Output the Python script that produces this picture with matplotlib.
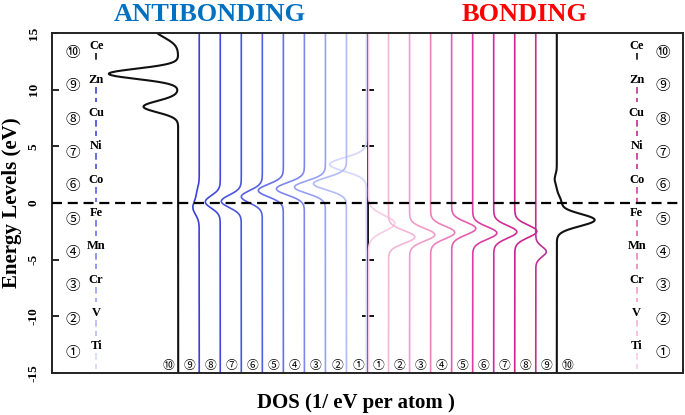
import numpy as np
import matplotlib
matplotlib.use('Agg')
import matplotlib.pyplot as plt

# 元素 ①..⑩
elements = ['Ti', 'V', 'Cr', 'Mn', 'Fe', 'Co', 'Ni', 'Cu', 'Zn', 'Ce']
circled = ['①', '②', '③', '④', '⑤', '⑥', '⑦', '⑧', '⑨', '⑩']

# 反键 DOS 峰: (能量 eV, 强度, 宽度)
antibonding_peaks = [
    [(3.4, 1.75, 0.6)],                                        # Ti
    [(1.7, 1.57, 0.55)],                                       # V
    [(1.4, 1.47, 0.55)],                                       # Cr
    [(1.25, 1.33, 0.55)],                                      # Mn
    [(1.1, 1.19, 0.55)],                                       # Fe
    [(0.55, 1.0, 0.55)],                                       # Co
    [(0.15, 0.95, 0.55)],                                      # Ni
    [(0.1, 0.71, 0.55)],                                       # Cu
    [(-0.4, 0.3, 0.6), (0.9, 0.1, 0.5)],                       # Zn
    [(8.5, 1.65, 0.5), (11.4, 3.3, 0.45), (15.3, 1.1, 0.7)],   # Ce
]

# 成键 DOS 峰
bonding_peaks = [
    [(-1.8, 1.25, 0.7)],                                       # Ti
    [(-3.0, 1.25, 0.55)],                                      # V
    [(-2.8, 1.2, 0.55)],                                       # Cr
    [(-2.6, 1.15, 0.55)],                                      # Mn
    [(-2.25, 1.15, 0.55)],                                     # Fe
    [(-2.65, 1.15, 0.55)],                                     # Co
    [(-2.55, 1.1, 0.55)],                                      # Ni
    [(-2.5, 1.05, 0.55)],                                      # Cu
    [(-4.3, 0.5, 0.45)],                                       # Zn
    [(-1.5, 1.8, 0.55), (0.1, 0.2, 0.5), (2.1, -0.1, 0.4)],    # Ce
]

y_ticks = [-15, -10, -5, 0, 5, 10, 15]

blues = ['#d3d7fb', '#b3baf6', '#98a1f1', '#7e88ec', '#6671e8',
         '#5560e3', '#4a55df', '#4049db', '#3a42d6', '#111111']
pinks = ['#f7cde3', '#f4b6d7', '#f09dcb', '#ea82bd', '#e25fae',
         '#da3ea2', '#d22c97', '#c9258d', '#bb3392', '#111111']

SERIF = 'Liberation Serif'
CIRC = ['Noto Sans CJK JP', 'DejaVu Sans']


def dos(E, peaks):
    d = np.zeros_like(E)
    for c, a, w in peaks:
        d += a * np.exp(-(E - c) ** 2 / (2 * w ** 2))
    return d


fig = plt.figure(figsize=(6.85, 4.15), dpi=100)
ax = fig.add_axes([52 / 685, 1 - 373 / 415, 631 / 685, 340 / 415])
ax.set_xlim(0, 30)
ax.set_ylim(-15, 15)

center = 15
E = np.linspace(-15, 15, 1200)

# 中间轴
ax.axvline(center, color='k', lw=1.3, zorder=1)
ax.plot([center] * 4, [-10, -5, 5, 10], ls='none', marker='_', ms=9, mew=1.3,
        color='k', zorder=1)

for i in range(10):
    lw = 1.5 if i == 9 else 1.2
    xa = center - i - (0.05 if i == 0 else 0)
    ax.plot(xa - dos(E, antibonding_peaks[i]), E, color=blues[i], lw=lw, zorder=2)
    xb = center + i + (0.05 if i == 0 else 0)
    ax.plot(xb + dos(E, bonding_peaks[i]), E, color=pinks[i], lw=lw, zorder=2)
    # 底部编号
    ax.text(center - i - 0.45, -14.3, circled[i], family=CIRC, fontsize=8.5,
            ha='center', va='center')
    ax.text(center + i + 0.5, -14.3, circled[i], family=CIRC, fontsize=8.5,
            ha='center', va='center')

# 费米能级
ax.axhline(0, color='k', lw=1.6, ls=(0, (4.5, 2.6)), zorder=5)

# 左右两侧元素标签
for i in range(10):
    yc = -13.24 + 2.942 * i
    yn = yc + 0.58
    ax.text(1.0, yc, circled[i], family=CIRC, fontsize=10.5, ha='center', va='center')
    ax.text(2.1, yn, elements[i], family=SERIF, weight='bold', fontsize=9,
            ha='center', va='center')
    ax.text(29.05, yc, circled[i], family=CIRC, fontsize=10.5, ha='center', va='center')
    ax.text(27.8, yn, elements[i], family=SERIF, weight='bold', fontsize=9,
            ha='center', va='center')
    top = yn - 0.6
    bot = yn - (1.2 if i == 9 else 2.0)
    ax.plot([2.1, 2.1], [top, bot], color=blues[i], lw=1.2, ls=(0, (4, 2.5)))
    ax.plot([27.8, 27.8], [top, bot], color=pinks[i], lw=1.2, ls=(0, (4, 2.5)))

ax.set_xticks([])
ax.set_yticks(y_ticks)
ax.set_yticklabels([str(t) for t in y_ticks], rotation=90, family=SERIF,
                   weight='bold', fontsize=9.5, va='center')
ax.tick_params(axis='y', direction='in', length=5, width=1.2, pad=9)
for s in ax.spines.values():
    s.set_linewidth(1.4)
    s.set_color('#222222')

ax.set_ylabel('Energy Levels (eV)', family=SERIF, weight='bold', fontsize=15,
              labelpad=4)
fig.text((356) / 685, 1 - 408 / 415, 'DOS (1/ eV per atom )', family=SERIF,
         weight='bold', fontsize=15, ha='center', va='baseline')

fig.text(210 / 685, 1 - 21 / 415, 'ANTIBONDING', family=SERIF, weight='bold',
         fontsize=19, color='#0070c0', ha='center', va='baseline')
fig.text(525 / 685, 1 - 21 / 415, 'BONDING', family=SERIF, weight='bold',
         fontsize=19, color='#ff0000', ha='center', va='baseline')

fig.savefig('out.png', dpi=100)
